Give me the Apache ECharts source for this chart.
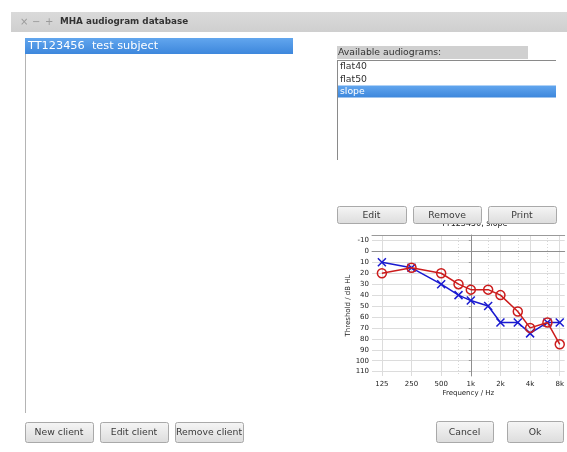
<!DOCTYPE html>
<html><head><meta charset="utf-8">
<script src="https://cdn.jsdelivr.net/npm/echarts@6/dist/echarts.min.js"></script>
<style>html,body{margin:0;padding:0;background:#fff}#c{width:567px;height:452px}</style>
</head><body><div id="c"></div><script>
// ---- data ----
const freqs = [125, 250, 500, 750, 1000, 1500, 2000, 3000, 4000, 6000, 8000];
const rightEar = [20, 15, 20, 30, 35, 35, 40, 55, 70, 65, 85];   // red circles
const leftEar  = [10, 15, 30, 40, 45, 50, 65, 65, 75, 65, 65];   // blue crosses
const xTickFreqs = [125, 250, 500, 1000, 2000, 4000, 8000];
const xTickLabels = ['125', '250', '500', '1k', '2k', '4k', '8k'];
const xMinorFreqs = [750, 1500, 3000, 6000];
const yTicks = [-10, 0, 10, 20, 30, 40, 50, 60, 70, 80, 90, 100, 110];
const clientNames = ['TT123456  test subject'];
const audiograms = ['flat40', 'flat50', 'slope'];
const chartTitle = 'TT123456, slope';

const oct = f => Math.log2(f / 1000);
const FONT = 'DejaVu Sans';
const UI = '9.3px "' + FONT + '"';
const chart = echarts.init(document.getElementById('c'), null, {renderer: 'canvas'});

function button(x, y, w, h, text) {
  return [
    {type: 'rect', z: 100, shape: {x: x + 0.5, y: y + 0.5, width: w, height: h, r: 2},
     style: {fill: {type: 'linear', x: 0, y: 0, x2: 0, y2: 1,
       colorStops: [{offset: 0, color: '#f6f6f6'}, {offset: 1, color: '#dcdcdc'}]},
       stroke: '#a9a9a9', lineWidth: 1}},
    {type: 'text', z: 101, x: x + w / 2, y: y + h / 2 + 1,
     style: {text: text, fill: '#3a3a3a', font: UI, align: 'center', verticalAlign: 'middle'}}
  ];
}
const blueSel = {type: 'linear', x: 0, y: 0, x2: 0, y2: 1,
  colorStops: [{offset: 0, color: '#62a6ee'}, {offset: 1, color: '#3d87dc'}]};

let g = [];
// title bar
g.push({type: 'rect', z: 90, shape: {x: 11, y: 12, width: 556, height: 20},
  style: {fill: {type: 'linear', x: 0, y: 0, x2: 0, y2: 1,
    colorStops: [{offset: 0, color: '#dadada'}, {offset: 1, color: '#cfcfcf'}]}}});
g.push({type: 'text', z: 91, x: 20, y: 22, style: {text: '×', fill: '#9a9a9a', font: '10px "' + FONT + '"', verticalAlign: 'middle'}});
g.push({type: 'text', z: 91, x: 32, y: 22, style: {text: '−', fill: '#9a9a9a', font: '10px "' + FONT + '"', verticalAlign: 'middle'}});
g.push({type: 'text', z: 91, x: 45, y: 22, style: {text: '+', fill: '#9a9a9a', font: '10px "' + FONT + '"', verticalAlign: 'middle'}});
g.push({type: 'text', z: 91, x: 60, y: 22, style: {text: 'MHA audiogram database', fill: '#333', font: 'bold 8.8px "' + FONT + '"', verticalAlign: 'middle'}});
// left client list
g.push({type: 'line', z: 90, shape: {x1: 25.5, y1: 38, x2: 25.5, y2: 413}, style: {stroke: '#b4b4b4', lineWidth: 1}});
g.push({type: 'rect', z: 91, shape: {x: 25, y: 38, width: 268, height: 16}, style: {fill: blueSel}});
g.push({type: 'text', z: 92, x: 28, y: 46.5, style: {text: clientNames[0], fill: '#fff', font: '11.3px "' + FONT + '"', verticalAlign: 'middle'}});
// available audiograms
g.push({type: 'rect', z: 90, shape: {x: 337, y: 46, width: 191, height: 13}, style: {fill: '#d0d0d0'}});
g.push({type: 'text', z: 91, x: 338, y: 53, style: {text: 'Available audiograms:', fill: '#333', font: UI, verticalAlign: 'middle'}});
g.push({type: 'line', z: 90, shape: {x1: 337, y1: 60.5, x2: 556, y2: 60.5}, style: {stroke: '#8a8a8a', lineWidth: 1}});
g.push({type: 'line', z: 90, shape: {x1: 337.5, y1: 60, x2: 337.5, y2: 160}, style: {stroke: '#8a8a8a', lineWidth: 1}});
audiograms.forEach((name, i) => {
  const cy = 67 + i * 12.2;
  if (i === audiograms.length - 1) {
    g.push({type: 'rect', z: 91, shape: {x: 338, y: cy - 6, width: 218, height: 12}, style: {fill: blueSel}});
  }
  g.push({type: 'text', z: 92, x: 340, y: cy, style: {text: name, fill: i === 2 ? '#fff' : '#333', font: UI, verticalAlign: 'middle'}});
});
g = g.concat(button(337, 206, 69, 17, 'Edit'), button(413, 206, 68, 17, 'Remove'), button(488, 206, 68, 17, 'Print'));
g = g.concat(button(25, 422, 68, 20, 'New client'), button(100, 422, 68, 20, 'Edit client'),
             button(175, 422, 68, 20, 'Remove client'), button(436, 421, 57, 21, 'Cancel'), button(507, 421, 56, 21, 'Ok'));

const axisText = {color: '#222', fontFamily: FONT, fontSize: 7};
// plot spans 30 px per octave; its right part is cut off by the window edge
const xMin = -10 / 3, xMax = -10 / 3 + 195 / 30;
const crossPath = 'path://M0,0L10,10M10,0L0,10';

const option = {
  animation: false,
  backgroundColor: '#fff',
  title: {text: chartTitle, left: 441, top: 220, padding: 0,
    textStyle: {fontSize: 8, fontWeight: 'normal', color: '#222', fontFamily: FONT}},
  grid: {left: 372, top: 235, width: 195, height: 141, containLabel: false},
  xAxis: [
    {type: 'value', min: xMin, max: xMax, position: 'bottom',
     name: 'Frequency / Hz', nameLocation: 'middle', nameGap: 14, nameTextStyle: axisText,
     axisLine: {show: true, lineStyle: {color: '#9a9a9a'}},
     axisTick: {show: false, customValues: xTickFreqs.map(oct)},
     axisLabel: {customValues: xTickFreqs.map(oct), ...axisText, margin: 5,
       formatter: v => xTickLabels[xTickFreqs.map(oct).findIndex(t => Math.abs(t - v) < 1e-6)] || ''},
     splitLine: {show: true, lineStyle: {color: '#dcdcdc', width: 1}}},
    {type: 'value', min: xMin, max: xMax, position: 'top',
     axisLine: {show: true, lineStyle: {color: '#9a9a9a'}},
     axisTick: {show: false, customValues: xMinorFreqs.map(oct)},
     axisLabel: {show: false},
     splitLine: {show: true, lineStyle: {color: '#d6d6d6', width: 1, type: [1, 2]}}}
  ],
  yAxis: {type: 'value', inverse: true, min: -15, max: 114,
    name: 'Threshold / dB HL', nameLocation: 'middle', nameGap: 18, nameRotate: 90, nameTextStyle: axisText,
    axisLine: {show: true, lineStyle: {color: '#9a9a9a'}},
    axisTick: {show: true, length: 2, inside: false, customValues: yTicks, lineStyle: {color: '#9a9a9a'}},
    axisLabel: {customValues: yTicks, ...axisText, margin: 3},
    splitLine: {show: true, lineStyle: {color: '#dcdcdc', width: 1}}},
  series: [
    {type: 'line', name: 'left', xAxisIndex: 0, z: 3,
     data: freqs.map((f, i) => [oct(f), leftEar[i]]),
     symbol: crossPath, symbolSize: 8,
     lineStyle: {color: '#1a1ad0', width: 1.5},
     itemStyle: {color: 'rgba(0,0,0,0)', borderColor: '#1a1ad0', borderWidth: 1.5},
     emphasis: {disabled: true},
     markLine: {silent: true, z: 1, symbol: 'none', label: {show: false}, animation: false,
       lineStyle: {color: '#8f8f8f', width: 1, type: 'solid'},
       data: [{xAxis: 0}, {yAxis: 0}]}},
    {type: 'line', name: 'right', xAxisIndex: 0, z: 4,
     data: freqs.map((f, i) => [oct(f), rightEar[i]]),
     symbol: 'circle', symbolSize: 9,
     lineStyle: {color: '#cc1c1c', width: 1.5},
     itemStyle: {color: 'rgba(0,0,0,0)', borderColor: '#cc1c1c', borderWidth: 1.5},
     emphasis: {disabled: true}}
  ],
  graphic: {elements: g}
};
chart.setOption(option);
</script></body></html>
